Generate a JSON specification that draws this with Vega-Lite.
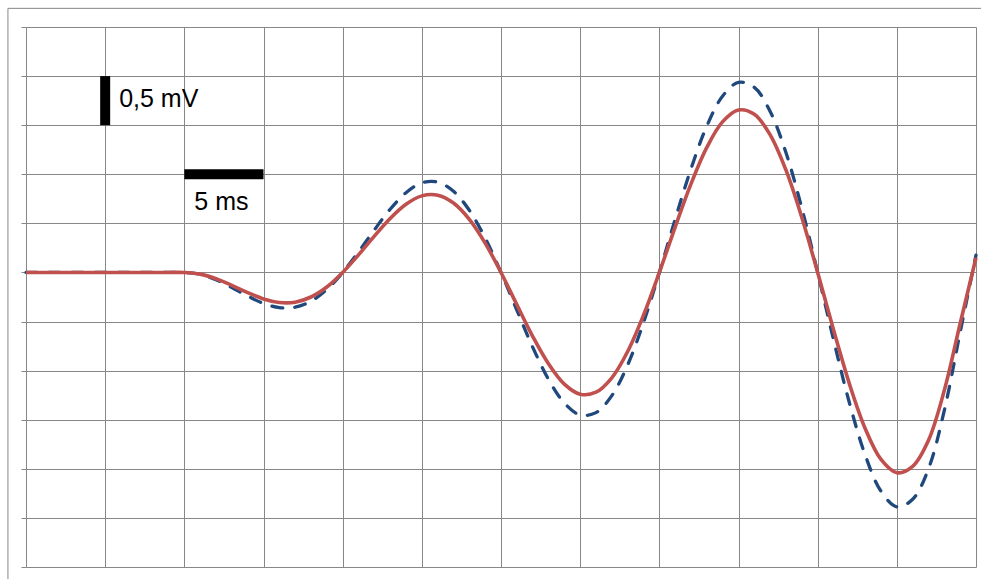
{
  "$schema": "https://vega.github.io/schema/vega-lite/v6.json",
  "width": 950,
  "height": 540,
  "autosize": {"type": "none"},
  "padding": {"left": 26, "top": 27, "right": 5, "bottom": 12},
  "background": "white",
  "config": {
    "view": {"stroke": null},
    "axisX": {"grid": true, "gridColor": "#878787", "gridWidth": 1, "gridOpacity": 1, "labels": false, "ticks": false, "domain": false},
    "axisY": {"grid": true, "gridColor": "#878787", "gridWidth": 1, "gridOpacity": 1, "labels": false, "ticks": true, "tickSize": 5, "tickColor": "#878787", "tickWidth": 1, "tickOpacity": 1, "domain": false}
  },
  "datasets": {
    "curves": [
      {"t":0,"s":"blue","v":0},{"t":8,"s":"blue","v":0},{"t":9,"s":"blue","v":0},{"t":10,"s":"blue","v":0},
      {"t":11,"s":"blue","v":-0.02},{"t":12,"s":"blue","v":-0.074},{"t":13,"s":"blue","v":-0.153},{"t":14,"s":"blue","v":-0.24},
      {"t":15,"s":"blue","v":-0.316},{"t":16,"s":"blue","v":-0.358},{"t":17,"s":"blue","v":-0.354},{"t":18,"s":"blue","v":-0.293},
      {"t":19,"s":"blue","v":-0.173},{"t":20,"s":"blue","v":0},{"t":21,"s":"blue","v":0.21},{"t":22,"s":"blue","v":0.433},
      {"t":23,"s":"blue","v":0.644},{"t":24,"s":"blue","v":0.812},{"t":25,"s":"blue","v":0.913},{"t":26,"s":"blue","v":0.92},
      {"t":27,"s":"blue","v":0.827},{"t":28,"s":"blue","v":0.633},{"t":29,"s":"blue","v":0.35},{"t":30,"s":"blue","v":0},
      {"t":31,"s":"blue","v":-0.383},{"t":32,"s":"blue","v":-0.76},{"t":33,"s":"blue","v":-1.089},{"t":34,"s":"blue","v":-1.33},
      {"t":35,"s":"blue","v":-1.451},{"t":36,"s":"blue","v":-1.428},{"t":37,"s":"blue","v":-1.255},{"t":38,"s":"blue","v":-0.942},
      {"t":39,"s":"blue","v":-0.511},{"t":40,"s":"blue","v":0},{"t":41,"s":"blue","v":0.541},{"t":42,"s":"blue","v":1.056},
      {"t":43,"s":"blue","v":1.491},{"t":44,"s":"blue","v":1.797},{"t":45,"s":"blue","v":1.936},{"t":46,"s":"blue","v":1.885},
      {"t":47,"s":"blue","v":1.64},{"t":48,"s":"blue","v":1.219},{"t":49,"s":"blue","v":0.655},{"t":50,"s":"blue","v":0},
      {"t":51,"s":"blue","v":-0.683},{"t":52,"s":"blue","v":-1.325},{"t":53,"s":"blue","v":-1.859},{"t":54,"s":"blue","v":-2.228},
      {"t":55,"s":"blue","v":-2.387},{"t":56,"s":"blue","v":-2.31},{"t":57,"s":"blue","v":-1.999},{"t":58,"s":"blue","v":-1.404},
      {"t":59,"s":"blue","v":-0.608},{"t":60,"s":"blue","v":0.176},
      {"t":0,"s":"red","v":0},{"t":8,"s":"red","v":0},{"t":9,"s":"red","v":0},{"t":10,"s":"red","v":0},
      {"t":11,"s":"red","v":-0.017},{"t":12,"s":"red","v":-0.064},{"t":13,"s":"red","v":-0.131},{"t":14,"s":"red","v":-0.205},
      {"t":15,"s":"red","v":-0.27},{"t":16,"s":"red","v":-0.306},{"t":17,"s":"red","v":-0.303},{"t":18,"s":"red","v":-0.25},
      {"t":19,"s":"red","v":-0.148},{"t":20,"s":"red","v":0},{"t":21,"s":"red","v":0.179},{"t":22,"s":"red","v":0.37},
      {"t":23,"s":"red","v":0.55},{"t":24,"s":"red","v":0.694},{"t":25,"s":"red","v":0.78},{"t":26,"s":"red","v":0.787},
      {"t":27,"s":"red","v":0.707},{"t":28,"s":"red","v":0.541},{"t":29,"s":"red","v":0.299},{"t":30,"s":"red","v":0},
      {"t":31,"s":"red","v":-0.328},{"t":32,"s":"red","v":-0.65},{"t":33,"s":"red","v":-0.93},{"t":34,"s":"red","v":-1.137},
      {"t":35,"s":"red","v":-1.24},{"t":36,"s":"red","v":-1.22},{"t":37,"s":"red","v":-1.073},{"t":38,"s":"red","v":-0.805},
      {"t":39,"s":"red","v":-0.436},{"t":40,"s":"red","v":0},{"t":41,"s":"red","v":0.462},{"t":42,"s":"red","v":0.902},
      {"t":43,"s":"red","v":1.274},{"t":44,"s":"red","v":1.536},{"t":45,"s":"red","v":1.655},{"t":46,"s":"red","v":1.611},
      {"t":47,"s":"red","v":1.402},{"t":48,"s":"red","v":1.042},{"t":49,"s":"red","v":0.56},{"t":50,"s":"red","v":0},
      {"t":51,"s":"red","v":-0.583},{"t":52,"s":"red","v":-1.132},{"t":53,"s":"red","v":-1.589},{"t":54,"s":"red","v":-1.904},
      {"t":55,"s":"red","v":-2.04},{"t":56,"s":"red","v":-1.975},{"t":57,"s":"red","v":-1.709},{"t":58,"s":"red","v":-1.2},
      {"t":59,"s":"red","v":-0.52},{"t":60,"s":"red","v":0.15}
    ],
    "bars": [
      {"t":5,"t2":5,"v":1.5,"v2":2.0,"label":"0,5 mV","kind":"amp"},
      {"t":10,"t2":15,"v":1.0,"v2":1.0,"label":"5 ms","kind":"time"}
    ]
  },
  "layer": [
    {
      "data": {"name": "curves"},
      "transform": [{"filter": "datum.s === 'blue'"}],
      "mark": {"type": "line", "color": "#1F497D", "strokeWidth": 3.3, "strokeDash": [11, 12], "strokeCap": "round", "interpolate": "catmull-rom"},
      "encoding": {
        "x": {"field": "t", "type": "quantitative", "title": null, "scale": {"domain": [0, 60], "nice": false, "zero": false},
              "axis": {"values": [0,5,10,15,20,25,30,35,40,45,50,55,60]}},
        "y": {"field": "v", "type": "quantitative", "title": null, "scale": {"domain": [-3, 2.5], "nice": false, "zero": false},
              "axis": {"values": [-3,-2.5,-2,-1.5,-1,-0.5,0,0.5,1,1.5,2,2.5]}}
      }
    },
    {
      "data": {"name": "curves"},
      "transform": [{"filter": "datum.s === 'red'"}],
      "mark": {"type": "line", "color": "#C0504D", "strokeWidth": 3.6, "interpolate": "catmull-rom"},
      "encoding": {
        "x": {"field": "t", "type": "quantitative", "title": null, "axis": {"values": [0,5,10,15,20,25,30,35,40,45,50,55,60]}},
        "y": {"field": "v", "type": "quantitative", "title": null, "axis": {"values": [-3,-2.5,-2,-1.5,-1,-0.5,0,0.5,1,1.5,2,2.5]}}
      }
    },
    {
      "data": {"name": "bars"},
      "mark": {"type": "rule", "color": "black", "strokeWidth": 10, "strokeCap": "butt"},
      "encoding": {
        "x": {"field": "t", "type": "quantitative", "title": null, "axis": {"values": [0,5,10,15,20,25,30,35,40,45,50,55,60]}},
        "x2": {"field": "t2"},
        "y": {"field": "v", "type": "quantitative", "title": null, "axis": {"values": [-3,-2.5,-2,-1.5,-1,-0.5,0,0.5,1,1.5,2,2.5]}},
        "y2": {"field": "v2"}
      }
    },
    {
      "data": {"name": "bars"},
      "transform": [{"filter": "datum.kind === 'amp'"}],
      "mark": {"type": "text", "align": "left", "baseline": "middle", "dx": 14, "dy": 23, "font": "Liberation Sans", "fontSize": 25, "color": "black"},
      "encoding": {
        "x": {"field": "t", "type": "quantitative", "title": null, "axis": {"values": [0,5,10,15,20,25,30,35,40,45,50,55,60]}},
        "y": {"field": "v2", "type": "quantitative", "title": null, "axis": {"values": [-3,-2.5,-2,-1.5,-1,-0.5,0,0.5,1,1.5,2,2.5]}},
        "text": {"field": "label"}
      }
    },
    {
      "data": {"name": "bars"},
      "transform": [{"filter": "datum.kind === 'time'"}],
      "mark": {"type": "text", "align": "left", "baseline": "alphabetic", "dx": 10, "dy": 36, "font": "Liberation Sans", "fontSize": 25, "color": "black"},
      "encoding": {
        "x": {"field": "t", "type": "quantitative", "title": null, "axis": {"values": [0,5,10,15,20,25,30,35,40,45,50,55,60]}},
        "y": {"field": "v", "type": "quantitative", "title": null, "axis": {"values": [-3,-2.5,-2,-1.5,-1,-0.5,0,0.5,1,1.5,2,2.5]}},
        "text": {"field": "label"}
      }
    },
    {
      "data": {"values": [{}]},
      "mark": {"type": "rect", "fill": null, "stroke": "#878787", "strokeWidth": 1},
      "encoding": {
        "x": {"datum": -1.14, "type": "quantitative", "title": null, "axis": {"values": [0,5,10,15,20,25,30,35,40,45,50,55,60]}},
        "x2": {"datum": 62},
        "y": {"datum": 2.69, "type": "quantitative", "title": null, "axis": {"values": [-3,-2.5,-2,-1.5,-1,-0.5,0,0.5,1,1.5,2,2.5]}},
        "y2": {"datum": -3.4}
      }
    }
  ]
}
